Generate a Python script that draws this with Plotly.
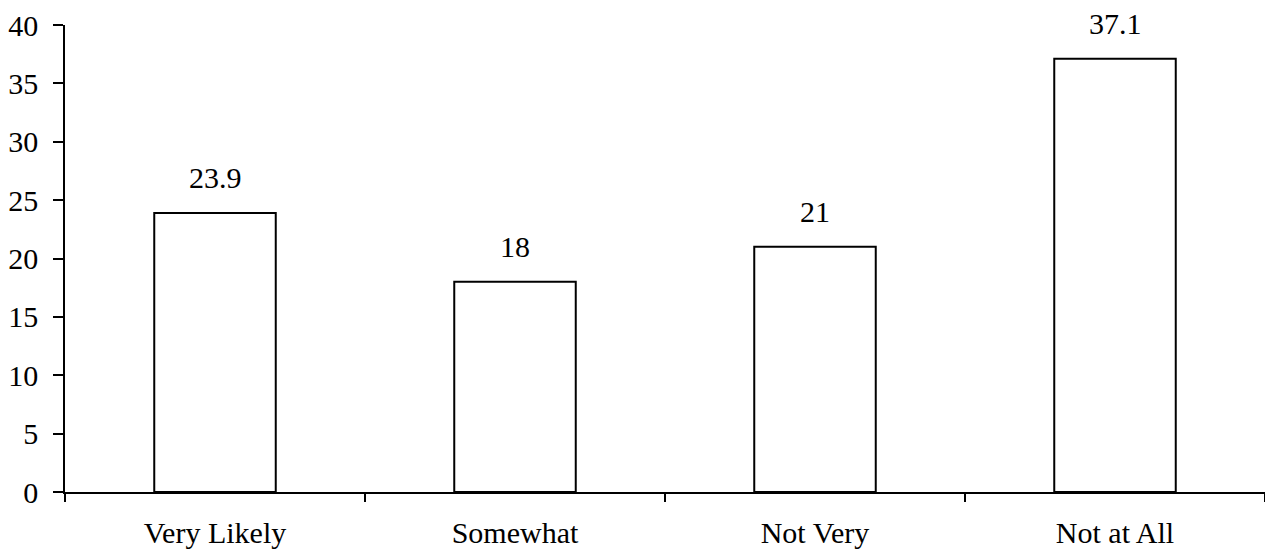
import plotly.graph_objects as go

# Survey response shares (%)
categories = ["Very Likely", "Somewhat", "Not Very", "Not at All"]
values = [23.9, 18, 21, 37.1]
value_labels = ["23.9", "18", "21", "37.1"]
y_ticks = [0, 5, 10, 15, 20, 25, 30, 35, 40]

FONT = "Liberation Serif"
SIZE = 30

fig = go.Figure(
    go.Bar(
        x=categories,
        y=values,
        marker=dict(color="white", line=dict(color="black", width=2)),
        width=0.405,
        hoverinfo="skip",
    )
)

# value labels above each bar
for cat, val, lab in zip(categories, values, value_labels):
    fig.add_annotation(
        x=cat, y=val, text=lab, showarrow=False,
        yanchor="bottom", yshift=17,
        font=dict(family=FONT, size=SIZE, color="black"),
    )

fig.update_layout(
    width=1265, height=554,
    margin=dict(l=65, r=0, t=25, b=62),
    paper_bgcolor="white", plot_bgcolor="white",
    showlegend=False,
    font=dict(family=FONT, size=SIZE, color="black"),
)

fig.update_xaxes(
    showline=True, linecolor="black", linewidth=1.5,
    ticks="outside", tickson="boundaries", ticklen=8, tickwidth=1.5, tickcolor="black",
    ticklabelstandoff=13,
    showgrid=False, zeroline=False,
    tickfont=dict(family=FONT, size=SIZE, color="black"),
)
fig.update_yaxes(
    range=[0, 40], tickvals=y_ticks,
    showline=True, linecolor="black", linewidth=1.5,
    ticks="outside", ticklen=10, tickwidth=1.5, tickcolor="black",
    ticklabelstandoff=9,
    showgrid=False, zeroline=False,
    tickfont=dict(family=FONT, size=SIZE, color="black"),
)

fig.write_html("out.html")
